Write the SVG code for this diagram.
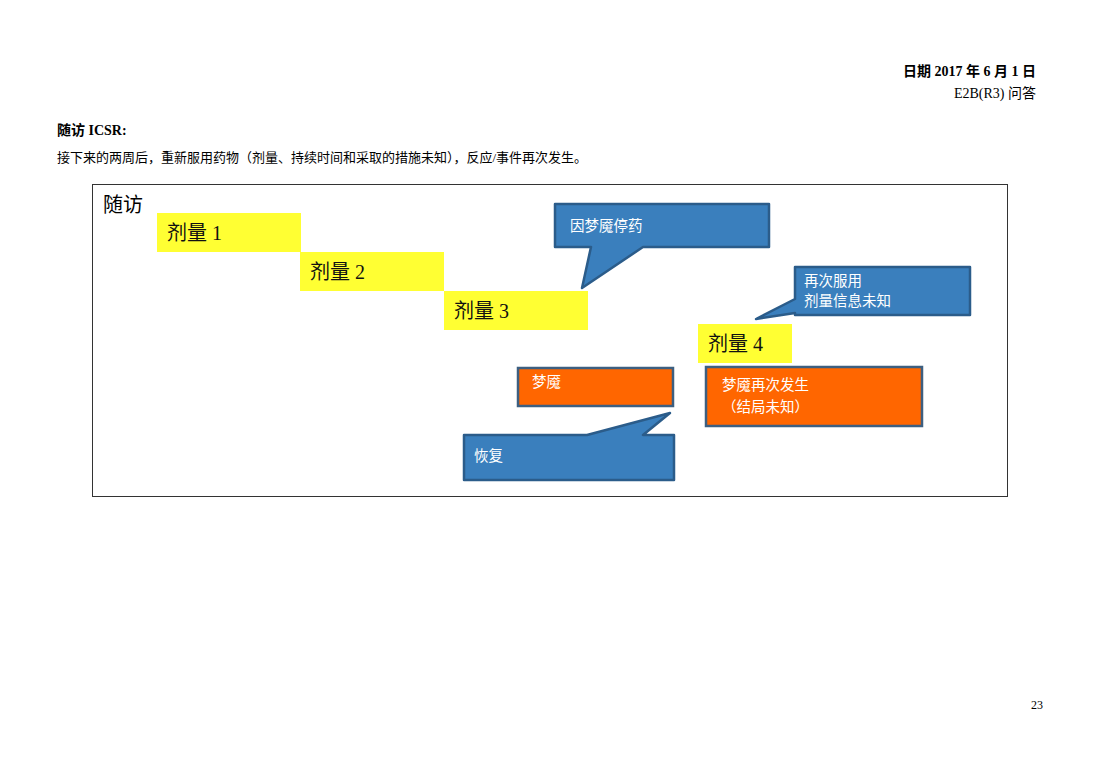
<svg xmlns="http://www.w3.org/2000/svg" width="1100" height="778" viewBox="0 0 1100 778">
<style>
.t{font-family:"Liberation Serif","Noto Sans CJK SC",serif;fill:#000}
.dose{fill:#ffff33}
.dl{font-family:"Liberation Serif","Noto Sans CJK SC",serif;font-size:20px;fill:#111}
.blue{fill:#3a7fbd;stroke:#2b5c8a;stroke-width:2.5;stroke-linejoin:round}
.org{fill:#ff6600;stroke:#3d5f80;stroke-width:2.5}
.wt{font-family:"Noto Sans CJK SC","Liberation Sans",sans-serif;font-size:14.5px;fill:#fff}
</style>
<rect width="1100" height="778" fill="#fff"/>
<g id="header">
<text class="t" x="1036" y="76" font-size="14" font-weight="bold" text-anchor="end">日期 2017 年 6 月 1 日</text>
<text class="t" x="1036" y="98" font-size="14" text-anchor="end">E2B(R3) 问答</text>
<text class="t" x="57" y="135" font-size="14" font-weight="bold">随访 ICSR:</text>
<text class="t" x="57" y="162" font-size="13">接下来的两周后，重新服用药物（剂量、持续时间和采取的措施未知），反应/事件再次发生。</text>
<text class="t" x="1043" y="709" font-size="12" text-anchor="end">23</text>
</g>
<g id="frame">
<rect x="92.5" y="184.5" width="915" height="312" fill="#fff" stroke="#333" stroke-width="1"/>
<text class="t" x="103" y="212" font-size="20">随访</text>
</g>
<g id="dose1"><rect class="dose" x="157" y="213" width="144" height="39"/><text class="dl" x="167" y="240">剂量 1</text></g>
<g id="dose2"><rect class="dose" x="300" y="252" width="144" height="39"/><text class="dl" x="310" y="279">剂量 2</text></g>
<g id="dose3"><rect class="dose" x="444" y="291" width="144" height="39"/><text class="dl" x="454" y="318">剂量 3</text></g>
<g id="dose4"><rect class="dose" x="698" y="324" width="94" height="39"/><text class="dl" x="708" y="351">剂量 4</text></g>
<g id="connectors"></g>
<g id="callout-stop">
<path class="blue" d="M555,204 H769 V247 H643 L582,288 L591,247 H555 Z"/>
<text class="wt" x="570" y="231">因梦魇停药</text>
</g>
<g id="callout-rechallenge">
<path class="blue" d="M795,267 H970 V315 H795 V313 L756,319 L795,299 Z"/>
<text class="wt" x="804" y="286">再次服用</text>
<text class="wt" x="804" y="306">剂量信息未知</text>
</g>
<g id="nightmare1">
<rect class="org" x="518" y="368" width="155" height="38"/>
<text class="wt" x="532" y="387">梦魇</text>
</g>
<g id="callout-recover">
<path class="blue" d="M464,435 H587 L670,413 L643,435 H674 V480 H464 Z"/>
<text class="wt" x="474" y="461">恢复</text>
</g>
<g id="nightmare2">
<rect class="org" x="706" y="367" width="216" height="59"/>
<text class="wt" x="722" y="390">梦魇再次发生</text>
<text class="wt" x="722" y="412">（结局未知）</text>
</g>
</svg>
